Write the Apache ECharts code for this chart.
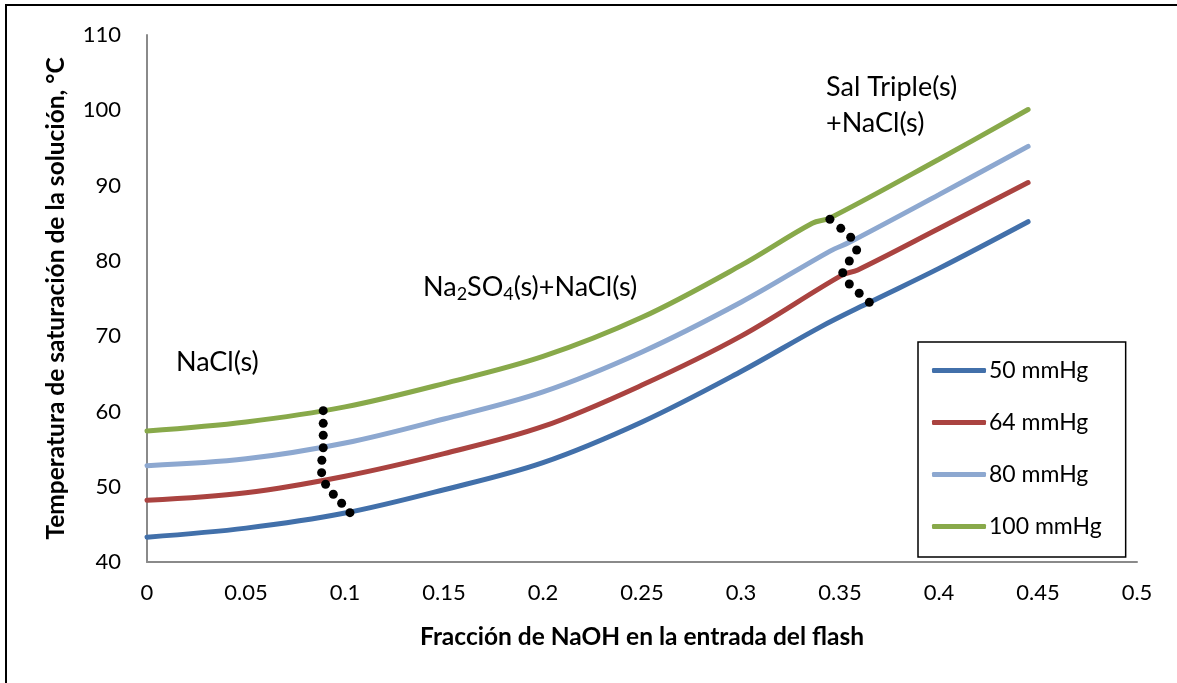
<!DOCTYPE html>
<html>
<head>
<meta charset="utf-8">
<title>Temperatura de saturación vs fracción de NaOH</title>
<script src="https://cdn.jsdelivr.net/npm/echarts@6/dist/echarts.min.js"></script>
<style>
  html, body { margin: 0; padding: 0; background: #fff; }
  #chart { width: 1177px; height: 683px; }
</style>
</head>
<body>
<div id="chart"></div>
<script>
// Fracción de NaOH (x) y temperatura de saturación (°C) para cada presión
const seriesNames = ['50 mmHg', '64 mmHg', '80 mmHg', '100 mmHg'];
const seriesColors = ['#4270AA', '#AA4340', '#8DA8D0', '#88A94A'];

const x50  = [0, 0.05, 0.1, 0.15, 0.2, 0.25, 0.3, 0.34, 0.365, 0.4, 0.445];
const t50  = [43.3, 44.5, 46.5, 49.6, 53.2, 58.6, 65.3, 71.2, 74.5, 79.0, 85.2];

const x64  = [0, 0.05, 0.1, 0.15, 0.2, 0.25, 0.3, 0.351, 0.359, 0.4, 0.445];
const t64  = [48.2, 49.2, 51.4, 54.4, 58.0, 63.5, 70.0, 78.1, 78.8, 84.3, 90.4];

const x80  = [0, 0.05, 0.1, 0.15, 0.2, 0.25, 0.3, 0.345, 0.355, 0.4, 0.445];
const t80  = [52.8, 53.7, 55.8, 59.0, 62.6, 67.9, 74.5, 81.3, 82.5, 88.8, 95.2];

const x100 = [0, 0.05, 0.1, 0.15, 0.2, 0.25, 0.3, 0.336, 0.345, 0.4, 0.445];
const t100 = [57.4, 58.6, 60.6, 63.7, 67.3, 72.5, 79.4, 85.0, 85.7, 93.5, 100.1];

// Límites entre regiones de fases sólidas (líneas punteadas)
const bound1X = [0.0890, 0.0890, 0.0890, 0.0890, 0.0883, 0.0882, 0.0902, 0.0941, 0.0983, 0.1025];
const bound1T = [60.10, 58.42, 56.83, 55.18, 53.52, 51.87, 50.33, 49.00, 47.80, 46.55];
const bound2X = [0.3449, 0.3504, 0.3554, 0.3584, 0.3547, 0.3514, 0.3547, 0.3597, 0.3648];
const bound2T = [85.52, 84.32, 83.13, 81.44, 79.98, 78.42, 76.92, 75.69, 74.49];

const xTicks = { min: 0, max: 0.5, interval: 0.05 };
const yTicks = { min: 40, max: 110, interval: 10 };

const pairs = (xs, ys) => xs.map((v, i) => [v, ys[i]]);
const curves = [[x50, t50], [x64, t64], [x80, t80], [x100, t100]];

const FONT = 'Lato, "Liberation Sans", sans-serif';
const axisGray = '#8A8A8A';

const chart = echarts.init(document.getElementById('chart'));

const lineSeries = curves.map((c, i) => ({
  name: seriesNames[i],
  type: 'line',
  data: pairs(c[0], c[1]),
  smooth: 0.35,
  symbol: 'none',
  lineStyle: { width: 5, color: seriesColors[i], cap: 'round' },
  itemStyle: { color: seriesColors[i] },
  z: 2
}));

const dotSeries = [pairs(bound1X, bound1T), pairs(bound2X, bound2T)].map(d => ({
  type: 'scatter',
  data: d,
  symbol: 'circle',
  symbolSize: 9,
  itemStyle: { color: '#000', opacity: 1 },
  silent: true,
  z: 5
}));

const label = (text, x, y, extra) => ({
  type: 'text', x: x, y: y, z: 50, silent: true,
  style: Object.assign({
    text: text, font: '27px ' + FONT, fill: '#000',
    align: 'left', verticalAlign: 'middle'
  }, extra || {})
});

chart.setOption({
  animation: false,
  backgroundColor: '#fff',
  textStyle: { fontFamily: FONT },
  grid: { left: 147, right: 40, top: 35, bottom: 121, containLabel: false },
  xAxis: {
    type: 'value',
    min: xTicks.min, max: xTicks.max, interval: xTicks.interval,
    name: 'Fracción de NaOH en la entrada del flash',
    nameLocation: 'middle',
    nameGap: 63,
    nameTextStyle: { fontFamily: FONT, fontWeight: 'bold', fontSize: 24.5, color: '#000' },
    axisLine: { show: true, lineStyle: { color: axisGray, width: 2 } },
    axisTick: { show: false },
    splitLine: { show: false },
    axisLabel: { fontFamily: FONT, fontSize: 22, color: '#000', margin: 20 }
  },
  yAxis: {
    type: 'value',
    min: yTicks.min, max: yTicks.max, interval: yTicks.interval,
    name: 'Temperatura de saturación de la solución, °C',
    nameLocation: 'middle',
    nameGap: 78,
    nameTextStyle: { fontFamily: FONT, fontWeight: 'bold', fontSize: 24.5, color: '#000' },
    axisLine: { show: true, lineStyle: { color: axisGray, width: 2 } },
    axisTick: { show: false },
    splitLine: { show: false },
    axisLabel: { fontFamily: FONT, fontSize: 22, color: '#000', margin: 26 }
  },
  legend: {
    data: seriesNames,
    orient: 'vertical',
    left: 918,
    top: 342,
    icon: 'roundRect',
    itemWidth: 54,
    itemHeight: 5,
    itemGap: 29,
    padding: [17, 24, 19, 14],
    borderColor: '#000',
    borderWidth: 1.5,
    backgroundColor: '#fff',
    textStyle: { fontFamily: FONT, fontSize: 23, color: '#000', padding: [0, 0, 0, -2] }
  },
  graphic: [
    {
      type: 'rect', silent: true, z: 100,
      shape: { x: 6, y: 5, width: 1200, height: 700 },
      style: { fill: 'none', stroke: '#000', lineWidth: 2 }
    },
    label('NaCl(s)', 176, 362),
    label('Na{sub|2}SO{sub|4}(s)+NaCl(s)', 423, 287, {
      rich: { sub: { fontSize: 18, fontFamily: FONT, padding: [14, 0, 0, 0] } }
    }),
    label('Sal Triple(s)', 826, 87),
    label('+NaCl(s)', 826, 123)
  ],
  series: lineSeries.concat(dotSeries)
});
</script>
</body>
</html>
